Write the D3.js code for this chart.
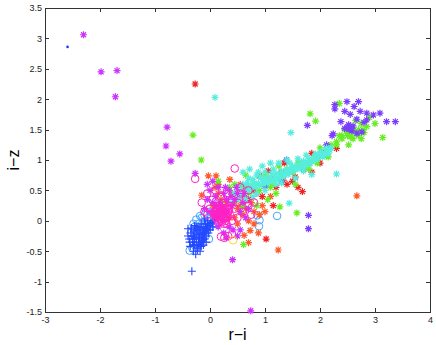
<!DOCTYPE html>
<html>
<head>
<meta charset="utf-8">
<script src="https://cdn.jsdelivr.net/npm/d3@7"></script>
<style>
  body { margin: 0; background: #fff; }
  .axis text { font-family: "Liberation Sans", Arial, sans-serif; font-size: 9px; fill: #222; }
  .axis path, .axis line { stroke: #333; shape-rendering: crispEdges; }
</style>
</head>
<body>
<div id="chart"></div>
<script>
// r-i vs i-z colours
const xTicks = [-3, -2, -1, 0, 1, 2, 3, 4];
const yTicks = [-1.5, -1, -0.5, 0, 0.5, 1, 1.5, 2, 2.5, 3, 3.5];

const bluePlus = [[-0.33,-0.83],[-0.38,-0.3],[-0.35,-0.2],[-0.32,-0.35],[-0.3,-0.25],[-0.28,-0.4],[-0.27,-0.15],
  [-0.25,-0.3],[-0.24,-0.22],[-0.22,-0.45],[-0.21,-0.35],[-0.2,-0.1],[-0.19,-0.28],[-0.18,-0.2],[-0.17,-0.38],
  [-0.16,-0.05],[-0.15,-0.25],[-0.14,-0.15],[-0.13,-0.32],[-0.12,-0.22],[-0.11,-0.1],[-0.1,-0.3],[-0.09,-0.18],
  [-0.08,-0.05],[-0.07,-0.25],[-0.05,-0.12],[-0.04,0.0],[-0.03,-0.2],[-0.02,-0.08],[0.0,-0.15],[0.02,-0.03],
  [0.05,-0.1],[-0.36,-0.42],[-0.3,-0.5],[-0.26,-0.55],[-0.4,-0.25],[-0.34,-0.12],[-0.28,-0.08],[-0.23,-0.48],
  [-0.18,-0.5],[-0.2,-0.4],[-0.25,-0.1],[-0.31,-0.3],[-0.16,-0.42],[-0.12,-0.4],[-0.07,-0.35],[-0.37,-0.35],
  [-0.29,-0.18],[-0.22,-0.15],[-0.14,-0.3],[-0.06,-0.15],[0.08,0.0],[-0.1,0.03],[-0.4,-0.13],
  [-0.2,-0.3],[-0.15,-0.35],[-0.1,-0.2],[-0.25,-0.4],[-0.3,-0.4],[-0.05,-0.05],[0.0,-0.05],[0.05,0.0],
  [-0.2,-0.22],[-0.12,-0.28],[-0.28,-0.28],[-0.33,-0.25],[-0.18,-0.12],[-0.08,-0.12]];

const lightBlueCircle = [[-0.37,-0.49],[-0.3,-0.35],[-0.25,-0.2],[-0.2,-0.05],[-0.15,0.05],[-0.1,0.1],[-0.05,0.0],
  [0.0,0.05],[0.05,-0.05],[0.1,0.1],[0.15,0.0],[-0.28,-0.1],[-0.22,-0.3],[-0.12,-0.15],[-0.08,-0.25],[0.0,-0.1],
  [-0.18,0.08],[-0.3,-0.05],[0.05,0.12],[0.18,0.08],[-0.35,-0.2],[0.86,0.09],[0.9,0.01],[0.89,-0.09],[1.22,0.08],
  [-0.02,-0.3],[0.1,-0.05],[-0.25,0.02],[-0.2,-0.15],[-0.1,-0.05],[0.0,0.15],[0.12,0.15],[-0.05,-0.15],
  [-0.15,-0.22],[-0.32,-0.45],[0.08,0.05],[-0.25,-0.35]];

const orangeStar = [[-0.03,0.74],[0.11,0.74],[-0.15,0.42],[0.09,0.55],[0.36,0.68],[0.62,-0.24],[0.7,-0.36],
  [0.88,-0.2],[0.73,-0.16],[2.67,0.41],[1.24,-0.48],[0.5,0.2],[0.6,0.4],[0.45,0.05],[0.75,0.3],[0.8,0.15],
  [0.3,0.3],[0.65,0.55],[0.95,0.25],[0.55,0.6],[0.2,0.35],[0.85,0.45],[1.1,0.4],[0.4,0.45],
  [0.05,0.25],[0.15,0.45],[0.25,0.15],[0.35,0.05],[0.45,0.3],[0.55,0.25],[0.6,0.1],[0.7,0.0],[0.5,-0.05],
  [0.9,0.1],[0.8,-0.05],[1.0,0.15],[0.65,0.2],[0.15,0.6]];

const redStar = [[-0.27,2.25],[1.02,-0.3],[1.68,0.48],[0.9,0.74],[1.06,0.82],[1.55,0.72],[1.3,0.8],[1.4,0.6],
  [1.8,0.95],[1.95,1.05],[1.2,0.55],[1.0,0.6],[0.8,0.5],[1.5,0.65],[1.7,0.85],[2.0,0.95],[1.1,0.7],[0.7,0.35],
  [1.35,0.95],[1.6,0.55],[0.95,0.4],[1.85,0.8],[1.15,0.25],[1.33,0.67],[2.15,1.19],[2.3,1.19],[1.85,1.11]];

const greenStar = [[-0.31,1.41],[-0.16,1.0],[1.82,1.76],[1.92,1.64],[3.14,1.37],[2.35,1.93],[1.58,0.13],
  [0.61,-0.39],[1.27,0.23],[0.3,0.15],[0.5,0.35],[0.7,0.45],[0.9,0.5],[1.1,0.55],[1.3,0.7],[1.5,0.8],
  [1.7,0.95],[1.9,1.05],[2.1,1.15],[2.2,1.25],[2.3,1.3],[2.4,1.35],[2.5,1.4],[2.6,1.45],[2.7,1.5],[2.75,1.6],
  [2.85,1.55],[2.9,1.7],[2.65,1.65],[2.55,1.55],[2.45,1.5],[2.0,1.2],[1.8,0.85],[1.6,0.95],[1.4,0.85],
  [1.2,0.45],[1.0,0.75],[0.8,0.6],[0.6,0.55],[0.4,0.45],[2.8,1.45],[3.0,1.6],[2.35,1.4],[1.95,0.95],
  [1.55,0.6],[1.05,0.35],[0.85,0.25],[2.15,1.05],[1.25,0.9],[0.2,0.3],[2.6,1.35],[2.75,1.35],[2.52,1.25],
  [0.35,0.55],[0.25,0.05],[0.55,0.15],[0.15,0.65],[0.45,0.6],[0.6,0.25],[1.15,0.6],[0.65,0.75],
  [2.62,1.5],[2.7,1.4],[2.78,1.5],[2.5,1.45],[2.4,1.4],[2.3,1.25],[2.55,1.38]];

const purpleStar = [[2.27,1.91],[2.27,1.84],[2.49,1.96],[2.7,1.96],[2.62,1.88],[2.73,1.8],[2.45,1.8],[2.55,1.75],
  [2.38,1.63],[2.67,1.67],[2.85,1.77],[2.97,1.74],[3.09,1.77],[3.21,1.63],[3.37,1.63],[2.85,1.66],[2.49,1.52],
  [2.53,1.52],[2.57,1.53],[2.24,1.43],[2.67,1.44],[2.76,1.46],[1.77,1.57],[2.06,1.08],[2.03,1.12],[1.39,1.0],
  [2.12,1.25],[1.79,0.09],[1.79,-0.13],[1.5,0.85],[1.3,0.65],[1.0,0.57],[2.8,1.62],[2.58,1.48],[2.22,1.4],
  [2.5,1.55],[2.45,1.52],[2.55,1.5],[2.6,1.56],[2.52,1.58]];

const cyanStar = [[0.09,2.03],[2.3,0.77],[1.44,0.29],[1.47,1.45],[1.85,0.76],[0.45,0.45],[0.5,0.55],[0.55,0.4],
  [0.6,0.6],[0.65,0.5],[0.7,0.7],[0.75,0.55],[0.8,0.62],[0.85,0.75],[0.9,0.58],[0.95,0.68],[1.0,0.8],[1.05,0.62],
  [1.1,0.72],[1.15,0.66],[1.2,0.78],[1.25,0.7],[1.3,0.82],[1.35,0.75],[1.4,0.85],[1.45,0.8],[1.5,0.9],[1.55,0.84],
  [1.6,0.92],[1.65,0.88],[1.7,0.98],[1.75,0.93],[1.8,1.02],[1.85,0.97],[1.9,1.06],[1.95,1.01],[2.0,1.1],
  [2.05,1.05],[2.1,1.14],[2.15,1.1],[2.2,1.2],[0.72,0.85],[0.6,0.8],[0.85,0.45],[1.0,0.5],[1.2,0.6],[1.3,0.62],
  [0.95,0.9],[1.1,0.95],[0.78,0.4],[1.55,0.7],[1.7,0.82],[1.25,0.95],[0.65,0.35],[0.4,0.3],[0.88,0.8],[1.4,1.0],
  [0.5,0.35],[0.55,0.5],[0.62,0.45],[0.68,0.62],[0.72,0.5],[0.78,0.68],[0.82,0.55],[0.88,0.62],[0.92,0.72],
  [0.98,0.6],[1.02,0.7],[1.08,0.65],[1.12,0.78],[1.18,0.72],[1.22,0.68],[1.28,0.76],[1.32,0.72],[1.38,0.8],
  [1.42,0.76],[1.48,0.86],[1.52,0.82],[1.58,0.88],[1.62,0.86],[1.68,0.92],[1.72,0.9],[1.78,0.96],[1.82,0.94],
  [1.88,1.0],[1.92,1.1],[1.98,1.06],[2.02,1.14],[2.08,1.1],[2.12,1.2],[2.18,1.16],[1.45,0.95],[1.6,1.02],
  [1.75,1.08],[1.15,0.85],[1.0,0.65],[0.7,0.58]];

const magentaStar = [[-2.3,3.06],[-1.98,2.45],[-1.69,2.47],[-1.72,2.04],[-0.78,1.54],[-0.8,1.23],[-0.71,0.98],
  [-0.55,1.1],[-0.27,0.78],[0.41,-0.64],[0.74,-1.48],[0.0,0.5],[0.1,0.4],[0.18,0.3],[0.05,0.3],[-0.05,0.35],
  [0.25,0.45],[0.3,0.35],[0.4,0.25],[0.15,0.55],[0.35,0.5],[0.5,0.45],[0.45,0.35],[0.2,0.2],[0.6,0.3],
  [0.35,-0.1],[0.55,-0.15],[0.42,-0.15],[0.25,-0.2],[0.65,0.05],[-0.1,0.2],[0.55,0.15],[0.7,0.2],[0.08,0.1],
  [-0.05,0.6],[0.05,0.65],[0.12,0.25],[0.28,0.55],[0.38,0.4],[0.48,0.55],[0.62,0.45],[0.3,0.15],[0.0,0.15],
  [0.22,0.05],[0.15,-0.1],[0.5,-0.25],[0.3,-0.28]];

const pinkCircle = [[-0.27,0.69],[0.45,0.86],[-0.15,0.3],[-0.05,0.45],[0.05,0.35],[0.1,0.5],[0.2,0.4],[0.3,0.45],
  [0.4,0.35],[0.5,0.3],[0.55,0.45],[0.65,0.35],[0.7,0.25],[0.45,0.2],[0.35,0.25],[0.0,0.2],[-0.1,0.15],[0.6,0.15],
  [0.75,0.1],[0.5,0.05],[0.4,0.0],[0.3,-0.05],[0.2,-0.26],[0.26,-0.28],[0.33,-0.25],[0.4,-0.22],[0.25,0.3],
  [0.15,0.25],[-0.05,0.1],[0.55,0.55],[0.8,0.3],[0.7,0.5],
  [0.1,0.05],[0.12,0.12],[0.14,0.2],[0.16,0.08],[0.18,0.15],[0.2,0.0],[0.2,0.22],[0.22,0.1],[0.24,0.16],
  [0.26,0.04],[0.28,0.2],[0.3,0.12],[0.32,0.06],[0.34,0.18],[0.15,-0.03],[0.25,-0.05],[0.17,0.25],[0.27,0.26],
  [0.08,0.15],[0.13,0.02],[0.21,0.06],[0.29,0.0],[0.23,0.13],[0.19,0.1],[0.31,0.22],[0.11,0.18],[0.36,0.1],
  [0.16,0.13],[0.24,0.07],[0.26,0.12],[0.14,0.07],[0.18,0.03],[0.22,0.2],[0.27,0.16],[0.3,0.05],[0.2,0.16],
  [0.12,0.09],[0.33,0.14],[0.24,0.02],[0.16,0.19],[0.28,0.08],[0.18,0.22],[0.22,-0.02],[0.09,0.1],[0.35,0.2]];

const yellowCircle = [[0.42,-0.32]];
const blueDot = [[-2.59,2.86]];

const series = [
  { data: lightBlueCircle, marker: "circle", color: "#4aa3ff" },
  { data: bluePlus, marker: "plus", color: "#2448ff" },
  { data: orangeStar, marker: "star", color: "#ff5a2a" },
  { data: redStar, marker: "star", color: "#f22222" },
  { data: greenStar, marker: "star", color: "#66ee22" },
  { data: purpleStar, marker: "star", color: "#7a3cff" },
  { data: cyanStar, marker: "star", color: "#55eedd" },
  { data: magentaStar, marker: "star", color: "#cc33ff" },
  { data: pinkCircle, marker: "circle", color: "#ff22c4" },
  { data: yellowCircle, marker: "circle", color: "#ffd633" },
  { data: blueDot, marker: "dot", color: "#2233ee" }
];

const size = { width: 436, height: 345 };
const margin = { top: 8, right: 6, bottom: 33, left: 45 };
const width = size.width - margin.left - margin.right;
const height = size.height - margin.top - margin.bottom;

const svg = d3.select("#chart")
  .append("svg")
  .attr("width", size.width)
  .attr("height", size.height);

const g = svg.append("g")
  .attr("transform", `translate(${margin.left}, ${margin.top})`);

const xScale = d3.scaleLinear().domain([-3, 4]).range([0, width]);
const yScale = d3.scaleLinear().domain([-1.5, 3.5]).range([height, 0]);

const fmt = d => String(d);

g.append("g").attr("class", "axis")
  .attr("transform", `translate(0, ${height})`)
  .call(d3.axisBottom(xScale).tickValues(xTicks).tickFormat(fmt).tickSizeInner(-4).tickSizeOuter(0).tickPadding(5));
g.append("g").attr("class", "axis")
  .call(d3.axisLeft(yScale).tickValues(yTicks).tickFormat(fmt).tickSizeInner(-4).tickSizeOuter(0).tickPadding(3));
g.append("g").attr("class", "axis")
  .call(d3.axisTop(xScale).tickValues(xTicks).tickFormat("").tickSizeInner(-4).tickSizeOuter(0));
g.append("g").attr("class", "axis")
  .attr("transform", `translate(${width}, 0)`)
  .call(d3.axisRight(yScale).tickValues(yTicks).tickFormat("").tickSizeInner(-4).tickSizeOuter(0));

// marker shapes, MATLAB style
const starPath = "M-3.5,0H3.5M0,-3.5V3.5M-2.5,-2.5L2.5,2.5M-2.5,2.5L2.5,-2.5";
const plusPath = "M-4,0H4M0,-4V4";

const marks = g.append("g").attr("class", "marks");

series.forEach(s => {
  const sel = marks.append("g")
    .selectAll("g")
    .data(s.data)
    .join("g")
    .attr("transform", d => `translate(${xScale(d[0])}, ${yScale(d[1])})`);

  if (s.marker === "circle") {
    sel.append("circle").attr("r", 3.8).attr("fill", "none").attr("stroke", s.color).attr("stroke-width", 1);
  } else if (s.marker === "star") {
    sel.append("path").attr("d", starPath).attr("fill", "none").attr("stroke", s.color).attr("stroke-width", 1.2);
  } else if (s.marker === "plus") {
    sel.append("path").attr("d", plusPath).attr("fill", "none").attr("stroke", s.color).attr("stroke-width", 1.1);
  } else {
    sel.append("circle").attr("r", 1.3).attr("fill", s.color);
  }
});

svg.append("text")
  .attr("x", margin.left + width / 2)
  .attr("y", 340)
  .style("text-anchor", "middle")
  .style("font-family", "Liberation Sans, Arial, sans-serif")
  .style("font-size", "16px")
  .text("r\u2212i");

svg.append("text")
  .attr("transform", `translate(19, ${margin.top + height / 2}) rotate(-90)`)
  .style("text-anchor", "middle")
  .style("font-family", "Liberation Sans, Arial, sans-serif")
  .style("font-size", "16px")
  .text("i\u2212z");
</script>
</body>
</html>
